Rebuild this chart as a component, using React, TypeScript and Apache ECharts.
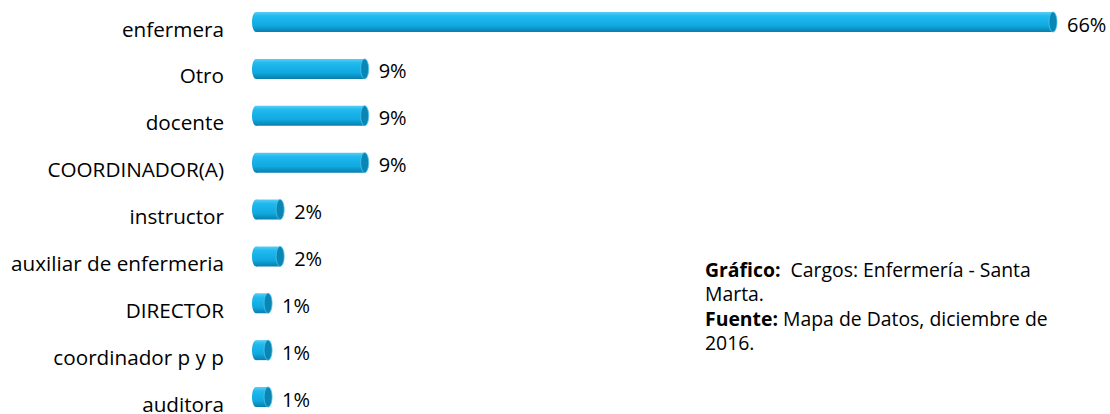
import React, { useEffect, useRef } from "react";
import * as echarts from "echarts";

const categories = [
  "enfermera",
  "Otro",
  "docente",
  "COORDINADOR(A)",
  "instructor",
  "auxiliar de enfermeria",
  "DIRECTOR",
  "coordinador p y p",
  "auditora",
];
const values = [66, 9, 9, 9, 2, 2, 1, 1, 1];
const noteLines = [
  "{b|Gráfico:}  Cargos: Enfermería - Santa",
  "Marta.",
  "{b|Fuente:} Mapa de Datos, diciembre de",
  "2016.",
];

const FONT = "'Open Sans', sans-serif";

export default function App() {
  const ref = useRef<HTMLDivElement>(null);
  useEffect(() => {
    document.body.style.margin = "0";
    if (!ref.current) return;
    const chart = echarts.init(ref.current, null, { renderer: "svg" });
    const bodyGrad = new echarts.graphic.LinearGradient(0, 0, 0, 1, [
      { offset: 0, color: "#5ccdf3" },
      { offset: 0.2, color: "#1fbaef" },
      { offset: 0.7, color: "#0fa8df" },
      { offset: 1, color: "#0a7eab" },
    ]);
    const data = values.map((v, i) => [v, i]);
    chart.setOption({
      animation: false,
      grid: { left: 256, right: 57, top: 22, bottom: 15 },
      xAxis: { type: "value", min: 0, max: 66, show: false },
      yAxis: {
        type: "category",
        data: categories,
        inverse: true,
        boundaryGap: false,
        axisLine: { show: false },
        axisTick: { show: false },
        splitLine: { show: false },
        axisLabel: {
          margin: 32,
          color: "#000",
          fontSize: 20.7,
          fontFamily: FONT,
          verticalAlign: "top",
          lineHeight: 13,
        },
      },
      series: [
        {
          type: "custom",
          data,
          encode: { x: 0, y: 1 },
          renderItem: (params: any, api: any) => {
            const v = api.value(0);
            const idx = api.value(1);
            const p0 = api.coord([0, idx]);
            const p1 = api.coord([v, idx]);
            const h = 20;
            const rx = 4;
            const cy = p0[1];
            return {
              type: "group",
              children: [
                {
                  type: "ellipse",
                  shape: { cx: p0[0], cy, rx, ry: h / 2 },
                  style: { fill: bodyGrad },
                },
                {
                  type: "rect",
                  shape: { x: p0[0], y: cy - h / 2, width: p1[0] - p0[0], height: h },
                  style: { fill: bodyGrad },
                },
                {
                  type: "ellipse",
                  shape: { cx: p1[0], cy, rx, ry: h / 2 },
                  style: { fill: "#0a86b5", stroke: "#4cc3ec", lineWidth: 0.8 },
                },
                {
                  type: "text",
                  x: p1[0] + rx + 10,
                  y: cy + 2,
                  style: {
                    text: v + "%",
                    fill: "#000",
                    fontSize: 20,
                    fontFamily: FONT,
                    verticalAlign: "middle",
                    align: "left",
                  },
                },
              ],
            };
          },
        },
      ],
      graphic: [
        {
          type: "text",
          left: 705,
          top: 257,
          style: {
            text: noteLines.join("\n"),
            fill: "#000",
            fontSize: 19.4,
            fontFamily: FONT,
            lineHeight: 24.5,
            rich: {
              b: { fontWeight: "bold", fontSize: 19.4, fontFamily: FONT, lineHeight: 24.5 },
            },
          },
        },
      ],
    });
    return () => chart.dispose();
  }, []);
  return <div ref={ref} style={{ width: 1110, height: 414 }} />;
}
